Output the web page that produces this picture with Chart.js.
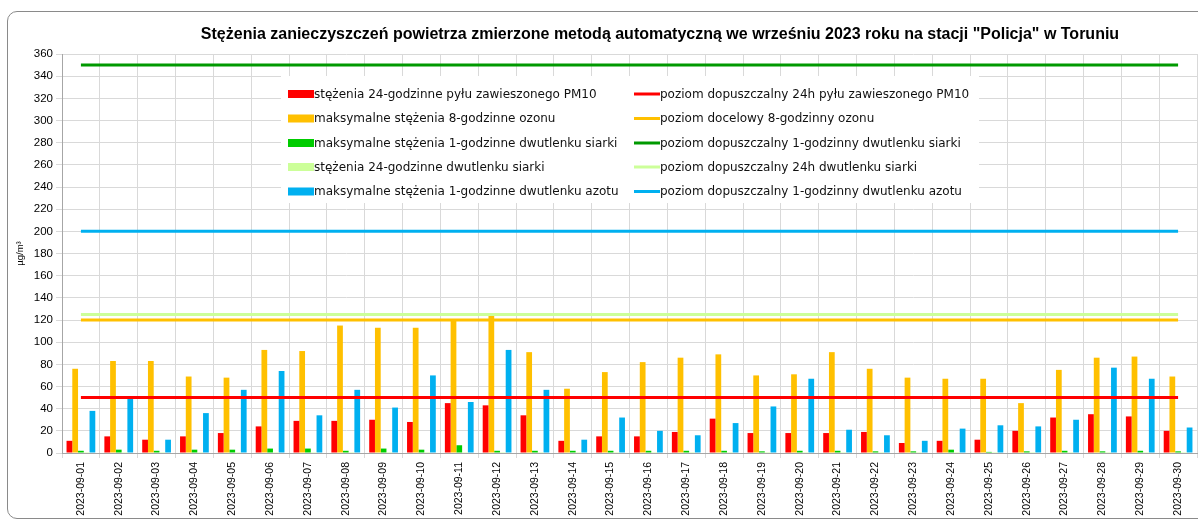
<!DOCTYPE html>
<html>
<head>
<meta charset="utf-8">
<script src="https://cdn.jsdelivr.net/npm/chart.js@4.4.0/dist/chart.umd.min.js"></script>
<style>
  html, body { margin: 0; padding: 0; background: #fff; overflow: hidden; }
  #wrap { position: relative; width: 1198px; height: 526px; overflow: hidden; }
  #frame { position: absolute; left: 7px; top: 11px; width: 1220px; height: 508px;
           border: 1.5px solid #8a8a8a; border-radius: 10px; box-sizing: border-box; }
  canvas { position: absolute; left: 0; top: 0; }
</style>
</head>
<body>
<div id="wrap">
  <div id="frame"></div>
  <canvas id="myChart" width="1198" height="526"></canvas>
</div>
<script>
// dane
const tytul = 'Stężenia zanieczyszczeń powietrza zmierzone metodą automatyczną we wrześniu 2023 roku na stacji "Policja" w Toruniu';

const dni = ['2023-09-01','2023-09-02','2023-09-03','2023-09-04','2023-09-05','2023-09-06','2023-09-07','2023-09-08','2023-09-09','2023-09-10',
  '2023-09-11','2023-09-12','2023-09-13','2023-09-14','2023-09-15','2023-09-16','2023-09-17','2023-09-18','2023-09-19','2023-09-20',
  '2023-09-21','2023-09-22','2023-09-23','2023-09-24','2023-09-25','2023-09-26','2023-09-27','2023-09-28','2023-09-29','2023-09-30'];

const pm10   = [11, 15, 12, 15, 18, 24, 29, 29, 30, 28, 45, 43, 34, 11, 15, 15, 19, 31, 18, 18, 18, 19, 9, 11, 12, 20, 32, 35, 33, 20];
const ozon8h = [76, 83, 83, 69, 68, 93, 92, 115, 113, 113, 120, 124, 91, 58, 73, 82, 86, 89, 70, 71, 91, 76, 68, 67, 67, 45, 75, 86, 87, 69];
const so2_1h = [2, 3, 2, 3, 3, 4, 4, 2, 4, 3, 7, 2, 2, 2, 2, 2, 2, 2, 1.5, 2, 2, 1.5, 1.5, 3, 1, 1.5, 2, 1.5, 2, 1.5];
const so2_24h = [0.8, 0.8, 0.8, 0.8, 0.8, 0.8, 0.8, 0.8, 0.8, 0.8, 0.8, 0.8, 0.8, 0.8, 0.8, 0.8, 0.8, 0.8, 0.8, 0.8, 0.8, 0.8, 0.8, 0.8, 0.8, 0.8, 0.8, 0.8, 0.8, 0.8];
const no2_1h = [38, 49, 12, 36, 57, 74, 34, 57, 41, 70, 46, 93, 57, 12, 32, 20, 16, 27, 42, 67, 21, 16, 11, 22, 25, 24, 30, 77, 67, 23];

// poziomy dopuszczalne / docelowe
const limitPM10 = 50;
const limitO3 = 120;
const limitSO2_1h = 350;
const limitSO2_24h = 125;
const limitNO2_1h = 200;

const ctx = document.getElementById('myChart');

function linia(label, value, color) {
    return {
        type: 'line',
        label: label,
        data: [{x: dni[0], y: value}, {x: dni[dni.length - 1], y: value}],
        borderColor: color,
        backgroundColor: color,
        borderWidth: 3,
        pointRadius: 0,
        order: 0
    };
}

function slupki(label, data, color) {
    return {
        type: 'bar',
        label: label,
        data: data,
        backgroundColor: color,
        borderWidth: 0,
        categoryPercentage: 0.76,
        barPercentage: 1,
        order: 1
    };
}

// tytul i legenda (dwie kolumny w obszarze wykresu)
const legendaPlugin = {
    id: 'legenda',
    afterDatasetsDraw(chart) {
        const c = chart.ctx;
        const ds = chart.data.datasets;
        c.save();
        c.fillStyle = '#000';
        c.font = 'bold 16px "Liberation Sans"';
        c.textAlign = 'center';
        c.textBaseline = 'middle';
        c.fillText(tytul, 660, 35);

        c.textAlign = 'left';
        c.fillStyle = '#ffffff';
        c.fillRect(281, 76, 698, 127);
        c.font = '12px "DejaVu Sans"';
        const rows = [94, 118.5, 143, 167, 191.5];
        for (let i = 0; i < 5; i++) {
            const b = ds[i];
            c.fillStyle = b.backgroundColor;
            c.fillRect(288, rows[i] - 4, 26, 8);
            c.fillStyle = '#111';
            c.fillText(b.label, 314, rows[i] + 0.5);
            const l = ds[i + 5];
            c.strokeStyle = l.borderColor;
            c.lineWidth = 3;
            c.beginPath();
            c.moveTo(634, rows[i]);
            c.lineTo(660, rows[i]);
            c.stroke();
            c.fillStyle = '#111';
            c.fillText(l.label, 660, rows[i] + 0.5);
        }
        c.restore();
    }
};

new Chart(ctx, {
    data: {
        labels: dni,
        datasets: [
            slupki('stężenia 24-godzinne pyłu zawieszonego PM10', pm10, '#ff0000'),
            slupki('maksymalne stężenia 8-godzinne ozonu', ozon8h, '#ffc000'),
            slupki('maksymalne stężenia 1-godzinne dwutlenku siarki', so2_1h, '#00cc00'),
            slupki('stężenia 24-godzinne dwutlenku siarki', so2_24h, '#ccff99'),
            slupki('maksymalne stężenia 1-godzinne dwutlenku azotu', no2_1h, '#00b0f0'),
            linia('poziom dopuszczalny 24h pyłu zawieszonego PM10', limitPM10, '#ff0000'),
            linia('poziom docelowy 8-godzinny ozonu', limitO3, '#ffc000'),
            linia('poziom dopuszczalny 1-godzinny dwutlenku siarki', limitSO2_1h, '#009900'),
            linia('poziom dopuszczalny 24h dwutlenku siarki', limitSO2_24h, '#ccff99'),
            linia('poziom dopuszczalny 1-godzinny dwutlenku azotu', limitNO2_1h, '#00b0f0')
        ]
    },
    options: {
        responsive: false,
        animation: false,
        layout: { padding: { left: 15, right: 1, top: 54, bottom: 0 } },
        plugins: {
            legend: { display: false },
            tooltip: { enabled: false },
            title: { display: false }
        },
        scales: {
            x: {
                offset: true,
                grid: { offset: true, color: '#d9d9d9', tickLength: 5 },
                border: { color: '#a6a6a6' },
                ticks: {
                    color: '#000',
                    font: { family: 'Liberation Sans', size: 10.5 },
                    maxRotation: 90, minRotation: 90,
                    autoSkip: false,
                    padding: 4
                },
                afterFit(s) { s.height = 73; }
            },
            y: {
                min: 0, max: 360,
                grid: { color: '#d9d9d9', tickLength: 6 },
                border: { color: '#a6a6a6' },
                ticks: {
                    stepSize: 20,
                    color: '#000',
                    font: { family: 'Liberation Sans', size: 11.5 },
                    padding: 3
                },
                title: {
                    display: true,
                    text: 'µg/m³',
                    color: '#000',
                    font: { family: 'Liberation Sans', size: 9.5 },
                    padding: { top: 0, bottom: 4 }
                },
                afterFit(s) { s.width = 47; }
            }
        }
    },
    plugins: [legendaPlugin]
});
</script>
</body>
</html>
